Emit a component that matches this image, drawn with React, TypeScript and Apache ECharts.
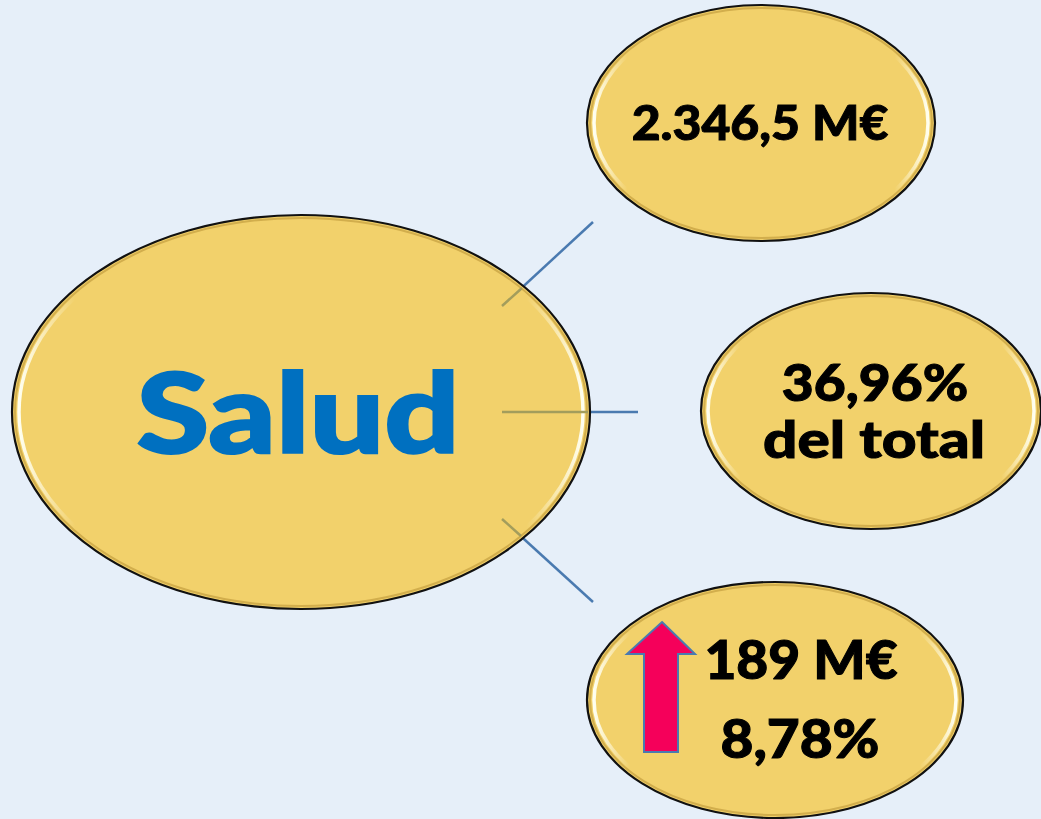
import React, { useEffect, useRef } from "react";
import * as echarts from "echarts";

// ---- content ----
const centerLabel = "Salud";
const totalAmount = ["2.346,5 M€"];
const shareLines = ["36,96%", "del total"];
const increaseLines = ["189 M€", "8,78%"];

const W = 1041;
const H = 819;
const BG = "#e6eff9";
const YELLOW = "#f2d16b";
const BLUE_TEXT = "#0070c0";
const LINE_BLUE = "#4a7ab0";
const LINE_INSIDE = "#a39d5c";
const FONT = "Lato, 'Open Sans', sans-serif";

function bubble(cx: number, cy: number, rx: number, ry: number, z: number) {
  return [
    {
      type: "ellipse",
      z,
      shape: { cx, cy, rx, ry },
      style: { fill: YELLOW, stroke: "#111", lineWidth: 2.2 },
    },
    {
      type: "ellipse",
      z: z + 1,
      silent: true,
      shape: { cx, cy, rx: rx - 3, ry: ry - 3 },
      style: { fill: "none", stroke: "rgba(170,130,40,0.45)", lineWidth: 2 },
    },
    {
      type: "ellipse",
      z: z + 2,
      silent: true,
      shape: { cx, cy, rx: rx - 7, ry: ry - 6 },
      style: {
        fill: "none",
        lineWidth: 3.5,
        stroke: new echarts.graphic.LinearGradient(0, 0, 1, 0, [
          { offset: 0, color: "rgba(255,255,240,1)" },
          { offset: 0.1, color: "rgba(255,255,240,0)" },
          { offset: 0.9, color: "rgba(255,255,240,0)" },
          { offset: 1, color: "rgba(255,255,240,1)" },
        ]),
      },
    },
  ];
}

function label(text: string, x: number, y: number, size: number, color: string, z: number, sx: number) {
  return {
    type: "text",
    z,
    x,
    y,
    scaleX: sx,
    style: {
      text,
      fill: color,
      font: `900 ${size}px ${FONT}`,
      textAlign: "center",
      textVerticalAlign: "middle",
      stroke: color,
      lineWidth: size * 0.02,
    },
  };
}

export default function App() {
  const ref = useRef<HTMLDivElement>(null);
  useEffect(() => {
    document.body.style.margin = "0";
    const chart = echarts.init(ref.current!, null, { renderer: "svg" });
    const elements: any[] = [
      { type: "rect", z: 0, shape: { x: 0, y: 0, width: W, height: H }, style: { fill: BG } },
      // connectors (outer parts)
      { type: "line", z: 1, shape: { x1: 502, y1: 306, x2: 593, y2: 222 }, style: { stroke: LINE_BLUE, lineWidth: 2.5 } },
      { type: "line", z: 1, shape: { x1: 502, y1: 412, x2: 638, y2: 412 }, style: { stroke: LINE_BLUE, lineWidth: 2.5 } },
      { type: "line", z: 1, shape: { x1: 502, y1: 519, x2: 593, y2: 602 }, style: { stroke: LINE_BLUE, lineWidth: 2.5 } },
      ...bubble(301, 412, 289, 197, 2),
      // connectors (parts seen through the centre bubble)
      { type: "line", z: 6, shape: { x1: 502, y1: 306, x2: 522, y2: 288 }, style: { stroke: LINE_INSIDE, lineWidth: 2.5 } },
      { type: "line", z: 6, shape: { x1: 502, y1: 412, x2: 588, y2: 412 }, style: { stroke: LINE_INSIDE, lineWidth: 2.5 } },
      { type: "line", z: 6, shape: { x1: 502, y1: 519, x2: 521, y2: 536 }, style: { stroke: LINE_INSIDE, lineWidth: 2.5 } },
      ...bubble(761, 123, 174, 118, 2),
      ...bubble(871, 411, 170, 118, 2),
      ...bubble(775, 700, 188, 118, 2),
      label(centerLabel, 298, 410, 110, BLUE_TEXT, 10, 1.2),
      label(totalAmount[0], 760, 121, 48, "#000", 10, 1.04),
      label(shareLines[0], 875, 381, 52, "#000", 10, 1.06),
      label(shareLines[1], 874, 438, 52, "#000", 10, 1.16),
      label(increaseLines[0], 801, 658, 54, "#000", 10, 1.02),
      label(increaseLines[1], 800, 737, 54, "#000", 10, 1.05),
      {
        type: "polygon",
        z: 9,
        shape: {
          points: [
            [662, 622],
            [695, 654],
            [678, 654],
            [678, 752],
            [644, 752],
            [644, 654],
            [627, 654],
          ],
        },
        style: { fill: "#f5005a", stroke: LINE_BLUE, lineWidth: 2 },
      },
    ];
    chart.setOption({ animation: false, graphic: { elements } });
    return () => chart.dispose();
  }, []);
  return <div ref={ref} style={{ position: "fixed", left: 0, top: 0, width: W, height: H }} />;
}
